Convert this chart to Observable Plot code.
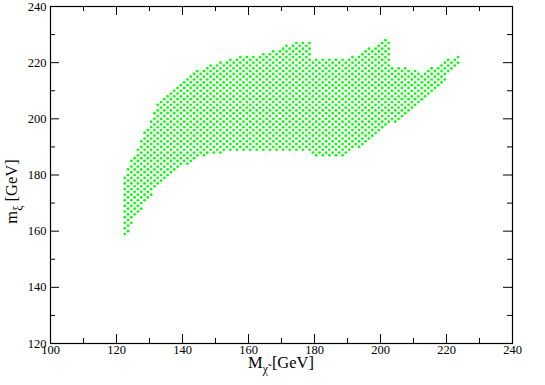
<!DOCTYPE html>
<html><head><meta charset="utf-8">
<script src="https://cdn.jsdelivr.net/npm/d3@7"></script>
<script src="https://cdn.jsdelivr.net/npm/@observablehq/plot@0.6"></script>
<style>
body{margin:0;background:#fff}
svg text{font-family:"Liberation Serif","DejaVu Serif","Times New Roman",Times,serif !important;}
</style>
</head><body><div id="chart"></div>
<script>
// Scan columns (M_chi in GeV) and the lowest / highest m_xi point in each column (GeV)
const colX = [122.5,123.5,124.5,125.5,126.5,127.5,128.5,129.5,130.5,131.5,132.5,133.5,134.5,135.5,136.5,137.5,138.5,139.5,140.5,141.5,142.5,143.5,144.5,145.5,146.5,147.5,148.5,149.5,150.5,151.5,152.5,153.5,154.5,155.5,156.5,157.5,158.5,159.5,160.5,161.5,162.5,163.5,164.5,165.5,166.5,167.5,168.5,169.5,170.5,171.5,172.5,173.5,174.5,175.5,176.5,177.5,178.5,179.5,180.5,181.5,182.5,183.5,184.5,185.5,186.5,187.5,188.5,189.5,190.5,191.5,192.5,193.5,194.5,195.5,196.5,197.5,198.5,199.5,200.5,201.5,202.5,203.5,204.5,205.5,206.5,207.5,208.5,209.5,210.5,211.5,212.5,213.5,214.5,215.5,216.5,217.5,218.5,219.5,220.5,221.5,222.5,223.5];
const yLow = [159,160,163,166,167,168,171,172,173,176,177,178,179,180,181,182,183,184,185,184,185,186,187,188,187,188,189,188,189,188,189,190,189,190,189,190,189,190,189,190,189,190,189,190,189,190,189,190,189,190,189,190,189,190,189,190,189,188,187,188,187,188,187,188,187,188,187,188,189,190,191,190,191,192,193,194,195,196,197,198,199,200,199,200,201,202,203,204,205,206,207,208,209,210,211,212,213,214,217,218,219,220];
const yHigh = [179,182,185,186,189,192,195,196,199,202,205,206,207,208,209,210,211,212,213,214,215,216,217,216,217,218,219,218,219,220,219,220,221,220,221,222,221,222,221,222,221,222,223,222,223,224,223,224,225,226,225,226,227,226,227,226,227,220,221,220,221,220,221,220,221,220,221,220,221,222,221,222,223,224,225,224,225,226,227,228,227,218,217,218,217,218,217,216,217,216,215,216,217,218,217,218,219,220,221,220,221,222];
const yStep = 2; // spacing of scan points within a column
const xMajor = [100,120,140,160,180,200,220,240];
const xMinor = [110,130,150,170,190,210,230];
const yMajor = [120,140,160,180,200,220,240];
const yMinor = [130,150,170,190,210,230];

const points = [];
colX.forEach((x, i) => { for (let y = yLow[i]; y <= yHigh[i]; y += yStep) points.push({x, y}); });

const W = 545, H = 385, mL = 50, mR = 33, mT = 6, mB = 42;
const pw = W - mL - mR, ph = H - mT - mB;
const font = '"Liberation Serif", "DejaVu Serif", "Times New Roman", Times, serif';

const chart = Plot.plot({
  width: W, height: H,
  marginLeft: mL, marginRight: mR, marginTop: mT, marginBottom: mB,
  style: {fontFamily: font, fontSize: "12.5px", color: "#000", background: "#fff", overflow: "visible"},
  x: {domain: [100, 240]},
  y: {domain: [120, 240]},
  marks: [
    Plot.dot(points, {x: "x", y: "y", r: 1.35, fill: "#00ff00", stroke: "none"}),
    // inward ticks: bottom & top
    Plot.tickX(xMajor, {x: d => d, insetTop: ph - 9, stroke: "#000"}),
    Plot.tickX(xMajor, {x: d => d, insetBottom: ph - 9, stroke: "#000"}),
    Plot.tickX(xMinor, {x: d => d, insetTop: ph - 5, stroke: "#000"}),
    Plot.tickX(xMinor, {x: d => d, insetBottom: ph - 5, stroke: "#000"}),
    // inward ticks: left & right
    Plot.tickY(yMajor, {y: d => d, insetRight: pw - 9, stroke: "#000"}),
    Plot.tickY(yMajor, {y: d => d, insetLeft: pw - 9, stroke: "#000"}),
    Plot.tickY(yMinor, {y: d => d, insetRight: pw - 5, stroke: "#000"}),
    Plot.tickY(yMinor, {y: d => d, insetLeft: pw - 5, stroke: "#000"}),
    Plot.axisX(xMajor, {tickSize: 0, tickPadding: 2, label: null, fontSize: 12.5}),
    Plot.axisY(yMajor, {tickSize: 0, tickPadding: 4, label: null, fontSize: 12.5}),
    Plot.frame({stroke: "#000", strokeWidth: 1.2})
  ]
});

const g = d3.select(chart).append("g").attr("font-family", font).attr("fill", "#000");
const xt = g.append("text").attr("x", mL + pw / 2).attr("y", 368).attr("text-anchor", "middle").attr("font-size", 16.5);
xt.append("tspan").text("M");
xt.append("tspan").attr("dy", 5).attr("font-size", 11.5).text("\u03C7\u0303");
xt.append("tspan").attr("dy", -5).text("\u00A0[GeV]");
const yt = g.append("text").attr("transform", `translate(17,${mT + ph / 2 + 17}) rotate(-90)`).attr("text-anchor", "middle").attr("font-size", 16.5);
yt.append("tspan").text("m");
yt.append("tspan").attr("dy", 5).attr("font-size", 11.5).text("\u03BE");
yt.append("tspan").attr("dy", -5).text("\u00A0[GeV]");

document.getElementById("chart").appendChild(chart);
</script>
</body></html>
